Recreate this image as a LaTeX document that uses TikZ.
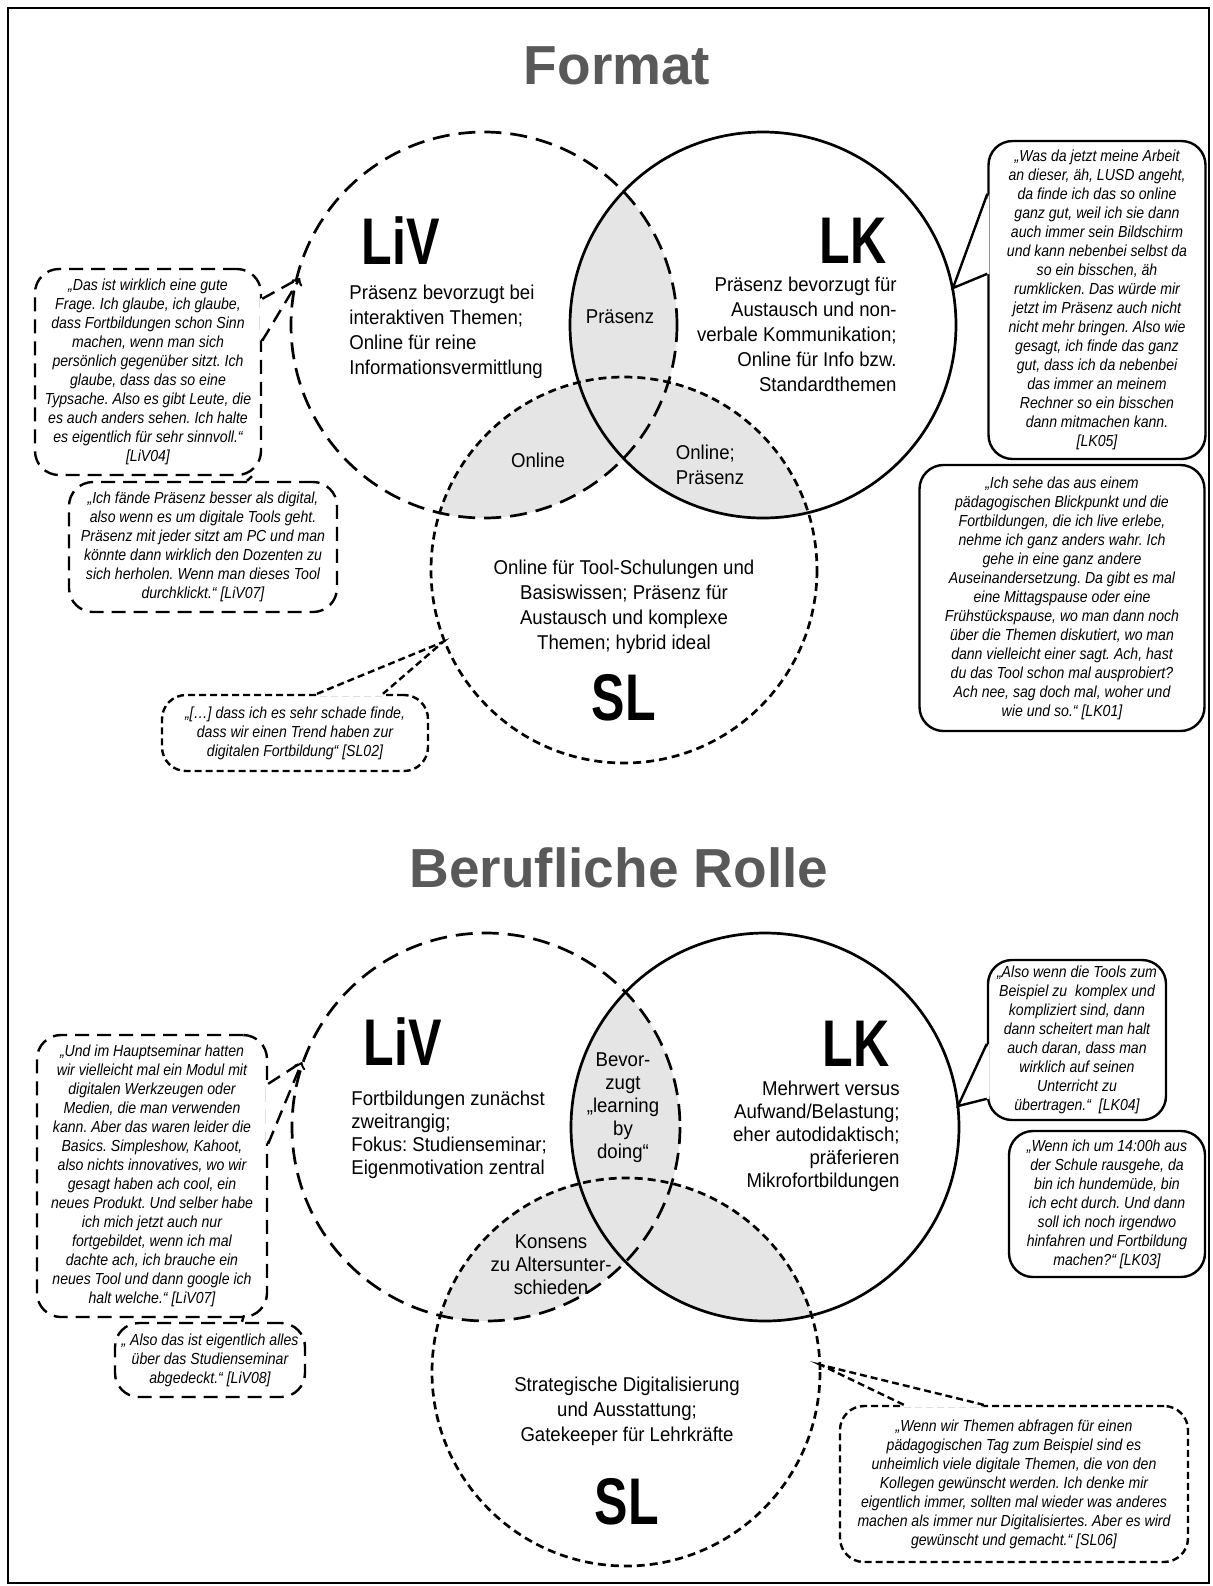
\documentclass[tikz,border=0pt]{standalone}
\usepackage{fontspec}
\setmainfont{Liberation Sans}
\newfontfamily\kreisfont{Liberation Sans}[FakeStretch=0.93]
\newfontfamily\zitatfont{Liberation Sans}[FakeStretch=0.88]
\newfontfamily\rollefont{Liberation Sans}[FakeStretch=0.76]
\usetikzlibrary{calc}
\frenchspacing

\definecolor{titelgrau}{gray}{0.35}
\definecolor{linse}{gray}{0.9}
\definecolor{mitte}{gray}{0.84}

\begin{document}
\begin{tikzpicture}[x=0.5pt, y=-0.5pt,
    livline/.style={line width=1.35pt, dash pattern=on 8.5pt off 4.5pt},
    lkline/.style={line width=1.35pt},
    slline/.style={line width=1.35pt, dash pattern=on 4pt off 2.5pt},
    livtail/.style={line width=1.2pt, dash pattern=on 7pt off 4pt},
    lktail/.style={line width=1.2pt},
    sltail/.style={line width=1.2pt, dash pattern=on 3.5pt off 2pt},
    titel/.style={font=\bfseries\fontsize{27.5}{30}\selectfont, text=titelgrau},
    rolle/.style={font=\rollefont\bfseries\fontsize{33}{35}\selectfont},
    kreistext/.style={font=\kreisfont\fontsize{10}{12.5}\selectfont, inner sep=0pt},
    kreiseng/.style={font=\kreisfont\fontsize{10}{11.5}\selectfont, inner sep=0pt},
    zitat/.style={draw, fill=white, rounded corners=12pt, inner sep=0pt, align=center,
      font=\zitatfont\itshape\fontsize{8}{9.5}\selectfont},
    livbox/.style={zitat, livtail},
    lkbox/.style={zitat, lktail},
    slbox/.style={zitat, sltail}]
  \useasboundingbox (0,0) rectangle (1212,1586);
  \draw[line width=1pt] (8,8) rectangle (1209,1583); % Rahmen

  % ---- Format ----
  \node[titel] (titel1) at (617,66) {Format};
  \coordinate (liv1) at (484,325);
  \coordinate (lk1) at (763,325);
  \coordinate (sl1) at (624,570);
  \begin{scope}
    \clip (liv1) circle (193);
    \fill[linse] (lk1) circle (193);
    \fill[linse] (sl1) circle (193);
    \clip (lk1) circle (193);
    \fill[mitte] (sl1) circle (193);
  \end{scope}
  \begin{scope}
    \clip (lk1) circle (193);
    \fill[linse] (sl1) circle (193);
  \end{scope}

  \node[livbox, minimum width=113pt, minimum height=103pt] (q1) at (148,372)
    {„Das ist wirklich eine gute\\Frage. Ich glaube, ich glaube,\\dass Fortbildungen schon Sinn\\machen, wenn man sich\\persönlich gegenüber sitzt. Ich\\glaube, dass das so eine\\Typsache. Also es gibt Leute, die\\es auch anders sehen. Ich halte\\es eigentlich für sehr sinnvoll.“\\{}[LiV04]};
  \node[livbox, minimum width=134pt, minimum height=65pt] (q2) at (203,547)
    {„Ich fände Präsenz besser als digital,\\also wenn es um digitale Tools geht.\\Präsenz mit jeder sitzt am PC und man\\könnte dann wirklich den Dozenten zu\\sich herholen. Wenn man dieses Tool\\durchklickt.“ [LiV07]};
  \node[slbox, minimum width=133pt, minimum height=38pt] (q3) at (295,733)
    {„[…] dass ich es sehr schade finde,\\dass wir einen Trend haben zur\\digitalen Fortbildung“ [SL02]};
  \node[lkbox, minimum width=108.5pt, minimum height=159pt] (q4) at (1097,300)
    {„Was da jetzt meine Arbeit\\an dieser, äh, LUSD angeht,\\da finde ich das so online\\ganz gut, weil ich sie dann\\auch immer sein Bildschirm\\und kann nebenbei selbst da\\so ein bisschen, äh\\rumklicken. Das würde mir\\jetzt im Präsenz auch nicht\\nicht mehr bringen. Also wie\\gesagt, ich finde das ganz\\gut, dass ich da nebenbei\\das immer an meinem\\Rechner so ein bisschen\\dann mitmachen kann.\\{}[LK05]};
  \node[lkbox, minimum width=142.5pt, minimum height=133pt] (q5) at (1062,598)
    {„Ich sehe das aus einem\\pädagogischen Blickpunkt und die\\Fortbildungen, die ich live erlebe,\\nehme ich ganz anders wahr. Ich\\gehe in eine ganz andere\\Auseinandersetzung. Da gibt es mal\\eine Mittagspause oder eine\\Frühstückspause, wo man dann noch\\über die Themen diskutiert, wo man\\dann vielleicht einer sagt. Ach, hast\\du das Tool schon mal ausprobiert?\\Ach nee, sag doch mal, woher und\\wie und so.“ [LK01]};

  \coordinate (spitze1) at (300,278);
  \fill[white] ($(q1.north east)+(-2,31)$) -- (spitze1) -- ($(q1.north east)+(-2,73)$) -- cycle;
  \draw[livtail] ($(q1.north east)+(0,31)$) -- (spitze1);
  \draw[livtail,->] ($(q1.north east)+(0,73)$) -- (spitze1);
  \draw[livtail] ($(q2.north)+(44,0)$) -- ($(q1.south)+(104,0)$); % q2 an q1
  \coordinate (spitze3) at (443,642);
  \fill[white] ($(q3.north)+(22,2)$) -- (spitze3) -- ($(q3.north)+(88,2)$) -- cycle;
  \draw[sltail] ($(q3.north)+(22,0)$) -- (spitze3) -- ($(q3.north)+(88,0)$);
  \coordinate (spitze4) at (953,288);
  \fill[white] ($(q4.north west)+(2,54)$) -- (spitze4) -- ($(q4.north west)+(2,134)$) -- cycle;
  \draw[lktail] ($(q4.north west)+(0,54)$) -- (spitze4) -- ($(q4.north west)+(0,134)$);

  \draw[livline] (liv1) circle (193);
  \draw[lkline] (lk1) circle (193);
  \draw[slline] (sl1) circle (193);

  \node[rolle] (liv1n) at (401,241) {LiV};
  \node[rolle] (lk1n) at (853,241) {LK};
  \node[rolle] (sl1n) at (624,698) {SL};
  \node[kreistext, anchor=west, align=left] (liv1t) at (349,332)
    {Präsenz bevorzugt bei\\interaktiven Themen;\\Online für reine\\Informationsvermittlung};
  \node[kreistext, anchor=east, align=right] (lk1t) at (897,334)
    {Präsenz bevorzugt für\\Austausch und non-\\verbale Kommunikation;\\Online für Info bzw.\\Standardthemen};
  \node[kreistext, align=center] (sl1t) at (624,607)
    {Online für Tool-Schulungen und\\Basiswissen; Präsenz für\\Austausch und komplexe\\Themen; hybrid ideal};
  \node[kreistext] (ab1) at (620,317) {Präsenz};
  \node[kreistext] (ac1) at (538,460) {Online};
  \node[kreistext, align=left] (bc1) at (710,465) {Online;\\Präsenz};

  % ---- Berufliche Rolle ----
  \node[titel] (titel2) at (619,868) {Berufliche Rolle};
  \coordinate (liv2) at (486,1127);
  \coordinate (lk2) at (765,1127);
  \coordinate (sl2) at (626,1372);
  \begin{scope}
    \clip (liv2) circle (194);
    \fill[linse] (lk2) circle (194);
    \fill[linse] (sl2) circle (194);
    \clip (lk2) circle (194);
    \fill[mitte] (sl2) circle (194);
  \end{scope}
  \begin{scope}
    \clip (lk2) circle (194);
    \fill[linse] (sl2) circle (194);
  \end{scope}

  \node[livbox, minimum width=115pt, minimum height=141pt] (q6) at (152,1176)
    {„Und im Hauptseminar hatten\\wir vielleicht mal ein Modul mit\\digitalen Werkzeugen oder\\Medien, die man verwenden\\kann. Aber das waren leider die\\Basics. Simpleshow, Kahoot,\\also nichts innovatives, wo wir\\gesagt haben ach cool, ein\\neues Produkt. Und selber habe\\ich mich jetzt auch nur\\fortgebildet, wenn ich mal\\dachte ach, ich brauche ein\\neues Tool und dann google ich\\halt welche.“ [LiV07]};
  \node[livbox, minimum width=95pt, minimum height=37pt] (q7) at (210,1360)
    {„ Also das ist eigentlich alles\\über das Studienseminar\\abgedeckt.“ [LiV08]};
  \node[lkbox, minimum width=89pt, minimum height=80pt] (q8) at (1077,1040)
    {„Also wenn die Tools zum\\Beispiel zu\ \ komplex und\\kompliziert sind, dann\\dann scheitert man halt\\auch daran, dass man\\wirklich auf seinen\\Unterricht zu\\übertragen.“\ \ [LK04]};
  \node[lkbox, minimum width=98pt, minimum height=73pt] (q9) at (1107,1204)
    {„Wenn ich um 14:00h aus\\der Schule rausgehe, da\\bin ich hundemüde, bin\\ich echt durch. Und dann\\soll ich noch irgendwo\\hinfahren und Fortbildung\\machen?“ [LK03]};
  \node[slbox, minimum width=174pt, minimum height=78pt] (q10) at (1014,1484)
    {„Wenn wir Themen abfragen für einen\\pädagogischen Tag zum Beispiel sind es\\unheimlich viele digitale Themen, die von den\\Kollegen gewünscht werden. Ich denke mir\\eigentlich immer, sollten mal wieder was anderes\\machen als immer nur Digitalisiertes. Aber es wird\\gewünscht und gemacht.“ [SL06]};

  \coordinate (spitze6) at (302,1062);
  \fill[white] ($(q6.north east)+(-2,50)$) -- (spitze6) -- ($(q6.north east)+(-2,110)$) -- cycle;
  \draw[livtail] ($(q6.north east)+(0,50)$) -- (spitze6);
  \draw[livtail,->] ($(q6.north east)+(0,110)$) -- (spitze6);
  \draw[livtail] ($(q7.north)+(32,0)$) -- ($(q6.south)+(92,-3)$); % q7 an q6
  \coordinate (spitze8) at (958,1106);
  \fill[white] ($(q8.north west)+(2,85)$) -- (spitze8) -- ($(q8.north west)+(2,140)$) -- cycle;
  \draw[lktail] ($(q8.north west)+(0,85)$) -- (spitze8) -- ($(q8.north west)+(0,140)$);
  \coordinate (spitze10) at (821,1365);
  \fill[white] ($(q10.north west)+(65,2)$) -- (spitze10) -- ($(q10.north west)+(145,2)$) -- cycle;
  \draw[sltail] ($(q10.north west)+(65,0)$) -- (spitze10) -- ($(q10.north west)+(145,0)$);

  \draw[livline] (liv2) circle (194);
  \draw[lkline] (lk2) circle (194);
  \draw[slline] (sl2) circle (194);

  \node[rolle] (liv2n) at (403,1042) {LiV};
  \node[rolle] (lk2n) at (856,1044) {LK};
  \node[rolle] (sl2n) at (627,1502) {SL};
  \node[kreiseng, anchor=west, align=left] (liv2t) at (351,1135)
    {Fortbildungen zunächst\\zweitrangig;\\Fokus: Studienseminar;\\Eigenmotivation zentral};
  \node[kreiseng, anchor=east, align=right] (lk2t) at (900,1136)
    {Mehrwert versus\\Aufwand/Belastung;\\eher autodidaktisch;\\präferieren\\Mikrofortbildungen};
  \node[kreistext, align=center] (sl2t) at (627,1411)
    {Strategische Digitalisierung\\und Ausstattung;\\Gatekeeper für Lehrkräfte};
  \node[kreiseng, align=center] (ab2) at (623,1108)
    {Bevor-\\zugt\\„learning\\by\\doing“};
  \node[kreiseng, align=center] (ac2) at (551,1265)
    {Konsens\\zu Altersunter-\\schieden};
\end{tikzpicture}
\end{document}
